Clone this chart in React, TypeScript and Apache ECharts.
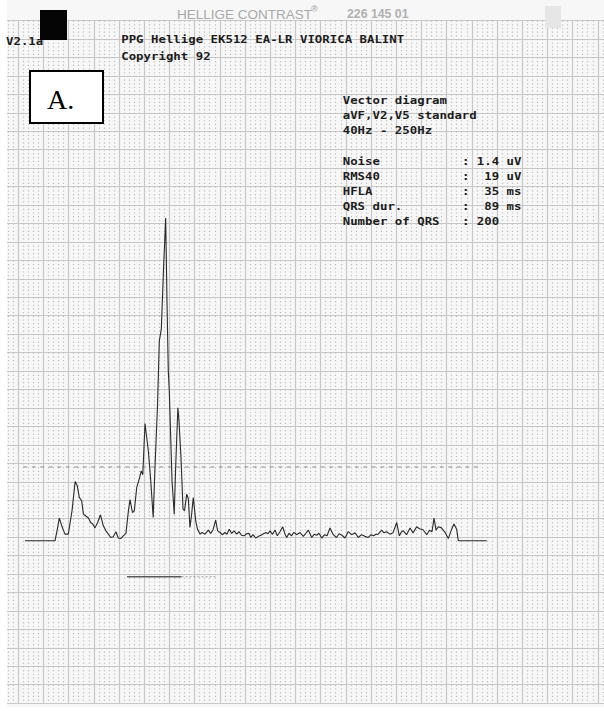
import React, { useEffect, useRef } from "react";
import * as echarts from "echarts";

// Filtered vector magnitude (signal-averaged ECG), time in ms, amplitude in µV
const timeMs = [6.7, 36.5, 38.5, 40.8, 43.5, 46.4, 49.7, 53.4, 56.5, 58.6, 60.6, 63.0, 64.6, 67.3, 69.5, 71.9, 73.9, 76.2, 78.7, 81.6, 84.4, 87.1, 89.4, 91.8, 94.3, 97.0, 99.3, 101.7, 104.3, 106.9, 109.2, 110.9, 113.4, 115.2, 117.6, 120.1, 122.1, 123.6, 125.8, 129.1, 131.5, 133.9, 135.7, 138.2, 140.0, 142.0, 144.1, 146.3, 147.6, 148.9, 149.9, 151.1, 152.6, 154.8, 156.2, 158.4, 159.5, 161.5, 163.5, 165.0, 167.2, 168.8, 170.4, 171.9, 173.7, 176.1, 177.9, 180.4, 182.3, 185.3, 188.6, 191.0, 193.3, 195.9, 197.9, 200.2, 202.5, 205.2, 207.1, 209.4, 211.8, 214.1, 216.8, 219.0, 221.5, 224.0, 226.5, 229.0, 230.7, 233.0, 235.6, 238.4, 240.9, 243.3, 245.8, 247.8, 249.8, 252.3, 254.8, 257.0, 259.7, 262.4, 264.7, 266.4, 268.6, 271.1, 273.6, 276.1, 279.6, 282.8, 285.0, 287.8, 291.2, 293.5, 296.0, 298.4, 301.1, 303.9, 306.4, 309.3, 312.6, 315.8, 318.3, 321.2, 324.2, 327.5, 330.7, 334.2, 337.4, 340.6, 344.0, 347.3, 350.0, 352.5, 355.0, 357.2, 360.6, 362.9, 365.4, 368.8, 371.8, 375.5, 378.1, 380.3, 382.1, 385.3, 388.7, 391.7, 395.3, 398.1, 401.6, 405.3, 408.0, 410.5, 412.5, 414.5, 416.8, 419.9, 423.4, 426.7, 430.0, 432.3, 435.0, 436.6, 464.8];
const amplitudeUv = [0, 0, 5.4, 12.3, 7.6, 3.6, 3.6, 16.3, 32.1, 29.8, 23.5, 21.7, 14.6, 13.3, 12.5, 9.9, 9.1, 7.0, 9.8, 14.1, 8.1, 5.4, 3.6, 1.8, 2.2, 4.9, 1.5, 1.2, 2.7, 4.0, 15.7, 22.3, 15.2, 16.3, 28.9, 33.6, 37.9, 35.8, 63.6, 48.8, 32.5, 12.6, 39.7, 73.2, 108.4, 114.9, 146.3, 174.9, 130.1, 92.1, 81.3, 59.6, 32.5, 14.4, 39.7, 72.1, 65.0, 45.1, 17.2, 16.3, 25.3, 22.8, 7.2, 13.6, 23.5, 10.8, 6.2, 3.6, 4.5, 3.6, 5.8, 4.0, 6.0, 11.2, 5.4, 4.5, 3.3, 4.5, 3.5, 6.3, 4.0, 5.4, 3.6, 5.0, 3.0, 2.7, 3.8, 4.0, 1.8, 3.3, 1.5, 2.4, 3.0, 3.8, 4.5, 3.8, 5.4, 3.5, 5.8, 2.7, 4.9, 7.6, 3.6, 1.8, 4.1, 2.7, 4.6, 3.3, 4.5, 2.4, 3.8, 5.8, 1.8, 3.5, 3.0, 4.1, 1.5, 3.3, 2.7, 6.9, 3.3, 1.8, 3.8, 3.0, 1.5, 5.0, 3.3, 4.3, 1.8, 3.3, 2.4, 1.8, 3.3, 2.7, 3.5, 3.6, 5.8, 4.3, 4.9, 3.6, 4.3, 9.9, 2.7, 4.9, 5.4, 3.3, 6.9, 4.3, 7.6, 6.5, 6.0, 3.3, 5.7, 4.9, 12.3, 5.8, 7.6, 7.0, 4.6, 1.2, 6.3, 9.1, 6.3, 0, 0];

// 40 µV reference level (dashed line) and its time span
const thresholdUv = 40;
const thresholdSpanMs = [5, 460];
// QRS duration bar: onset, start of the low-amplitude (HFLA) tail, end
const qrsOnsetMs = 108;
const hflaStartMs = 162;
const qrsEndMs = 197;
const qrsBarUv = -19.5;

// Printed texts
const versionText = "V2.1a";
const titleLines = ["PPG Hellige EK512 EA-LR VIORICA BALINT", "Copyright 92"];
const infoLines = ["Vector diagram", "aVF,V2,V5 standard", "40Hz - 250Hz"];
const statLabels = ["Noise", "RMS40", "HFLA", "QRS dur.", "Number of QRS"];
const statNumbers = ["1.4", "19", "35", "89", "200"];
const statUnits = ["uV", "uV", "ms", "ms", ""];
const paperBrand = "HELLIGE CONTRAST";
const paperCode = "226 145 01";
const panelLabel = "A.";

export default function App() {
  const ref = useRef<HTMLDivElement>(null);

  useEffect(() => {
    if (!ref.current) return;
    const chart = echarts.init(ref.current, undefined, { renderer: "svg" });

    const n = Math.min(timeMs.length, amplitudeUv.length);
    const trace: number[][] = [];
    for (let i = 0; i < n; i++) trace.push([timeMs[i], amplitudeUv[i]]);

    const pitch = 7.45; // printer character pitch
    const monoSize = 10.8;
    const sx = pitch / (0.602 * monoSize);
    const mono = `bold ${monoSize}px "DejaVu Sans Mono", monospace`;
    const ink = "#1c1c1c";

    const monoText = (text: string, x: number, y: number, align = "left") => ({
      type: "text",
      x,
      y,
      scaleX: sx,
      z: 50,
      silent: true,
      style: { text, font: mono, fill: ink, textAlign: align, textVerticalAlign: "middle" },
    });

    const infoX = 342.7;
    const graphics: any[] = [];
    // left / bottom white margin
    graphics.push({ type: "rect", x: 0, y: 0, z: 40, shape: { x: 0, y: 0, width: 7, height: 711 }, style: { fill: "#ffffff" } });
    graphics.push({ type: "rect", x: 0, y: 0, z: 40, shape: { x: 0, y: 707, width: 604, height: 4 }, style: { fill: "#ffffff" } });
    // paper brand header
    graphics.push({ type: "text", x: 177, y: 14, z: 50, style: { text: paperBrand, font: '13.5px "Liberation Sans", Arial, sans-serif', fill: "#a9a9a9", textVerticalAlign: "middle" } });
    graphics.push({ type: "text", x: 311, y: 9, z: 50, style: { text: "®", font: 'bold 9px "Liberation Sans", Arial, sans-serif', fill: "#b0b0b0", textVerticalAlign: "middle" } });
    graphics.push({ type: "text", x: 347, y: 14, z: 50, style: { text: paperCode, font: 'bold 12.3px "Liberation Sans", Arial, sans-serif', fill: "#b0b0b0", textVerticalAlign: "middle" } });
    graphics.push({ type: "rect", x: 0, y: 0, z: 45, shape: { x: 545, y: 6, width: 16, height: 22 }, style: { fill: "#e6e6e6" } });
    // printed texts
    graphics.push(monoText(versionText, 6, 41));
    graphics.push({ type: "rect", x: 0, y: 0, z: 55, shape: { x: 40, y: 10, width: 27, height: 30 }, style: { fill: "#050505" } });
    titleLines.forEach((t, i) => graphics.push(monoText(t, 121.2, 39.5 + i * 16.5)));
    infoLines.forEach((t, i) => graphics.push(monoText(t, infoX, 100.5 + i * 15)));
    statLabels.forEach((t, i) => {
      const y = 161.2 + i * 15;
      graphics.push(monoText(t, infoX, y));
      graphics.push(monoText(":", infoX + 16 * pitch, y));
      graphics.push(monoText(statNumbers[i], infoX + 21 * pitch, y, "right"));
      if (statUnits[i]) graphics.push(monoText(statUnits[i], infoX + 22 * pitch, y));
    });
    // panel label box
    graphics.push({ type: "rect", x: 0, y: 0, z: 60, shape: { x: 30, y: 71, width: 73, height: 52 }, style: { fill: "#ffffff", stroke: "#000000", lineWidth: 2 } });
    graphics.push({ type: "text", x: 47, y: 99, z: 61, style: { text: panelLabel, font: '28px "Liberation Serif", "Times New Roman", serif', fill: "#000000", textVerticalAlign: "middle" } });

    const majorLine = { color: "#c8c8c8", width: 1.2 };
    const dotLine = { color: "#bdbdbd", width: 1.2, type: [1.2, 2.49] };

    chart.setOption({
      animation: false,
      backgroundColor: "#f7f7f7",
      grid: { left: -7, top: 20.5, width: 630, height: 682.65, show: false, containLabel: false, outerBoundsMode: "none" },
      xAxis: {
        type: "value",
        min: -25,
        max: 600,
        interval: 25,
        axisLine: { show: false },
        axisTick: { show: false },
        axisLabel: { show: false },
        splitLine: { show: true, lineStyle: majorLine },
        minorTick: { show: false, splitNumber: 5 },
        minorSplitLine: { show: true, lineStyle: dotLine },
      },
      yAxis: [
        {
          type: "value",
          min: 0,
          max: 370,
          interval: 10,
          axisLine: { show: false },
          axisTick: { show: false },
          axisLabel: { show: false },
          splitLine: { show: true, lineStyle: majorLine },
        },
        {
          type: "value",
          min: -88,
          max: 282,
          show: false,
          splitLine: { show: false },
        },
      ],
      series: [
        {
          type: "line",
          yAxisIndex: 1,
          data: [
            [thresholdSpanMs[0], thresholdUv],
            [thresholdSpanMs[1], thresholdUv],
          ],
          symbol: "none",
          silent: true,
          lineStyle: { color: "#8c8c8c", width: 1, type: [4, 4.5] },
          z: 3,
        },
        {
          type: "line",
          yAxisIndex: 1,
          data: [
            [qrsOnsetMs, qrsBarUv],
            [hflaStartMs, qrsBarUv],
          ],
          symbol: "none",
          silent: true,
          lineStyle: { color: "#5a5a5a", width: 1.3 },
          z: 3,
        },
        {
          type: "line",
          yAxisIndex: 1,
          data: [
            [hflaStartMs, qrsBarUv],
            [qrsEndMs, qrsBarUv],
          ],
          symbol: "none",
          silent: true,
          lineStyle: { color: "#9a9a9a", width: 1, type: [2, 2] },
          z: 3,
        },
        {
          type: "line",
          yAxisIndex: 1,
          data: trace,
          symbol: "none",
          silent: true,
          lineStyle: { color: "#2a2a2a", width: 1.1 },
          z: 5,
        },
      ],
      graphic: graphics,
    });

    return () => chart.dispose();
  }, []);

  return (
    <div
      ref={ref}
      style={{ position: "absolute", left: 0, top: 0, width: 604, height: 711 }}
    />
  );
}
